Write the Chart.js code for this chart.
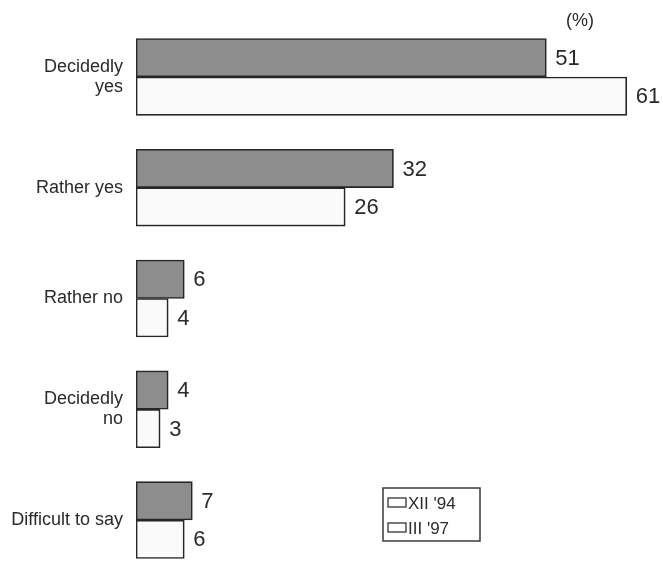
<!DOCTYPE html>
<html>
<head>
<meta charset="utf-8">
<script src="https://cdn.jsdelivr.net/npm/chart.js@4/dist/chart.umd.min.js"></script>
<style>
  html, body { margin: 0; padding: 0; background: #fff; overflow: hidden; }
  #wrap { position: relative; width: 663px; height: 561px; }
</style>
</head>
<body>
<div id="wrap"><canvas id="c" width="663" height="561"></canvas></div>
<script>
// Survey answers, percent of respondents
const categories = [["Decidedly", "yes"], "Rather yes", "Rather no", ["Decidedly", "no"], "Difficult to say"];
const seriesLabels = ["XII '94", "III '97"];
const values1994 = [51, 32, 6, 4, 7];
const values1997 = [61, 26, 4, 3, 6];
const unitLabel = "(%)";

const FONT = "'Liberation Sans', Arial, Helvetica, sans-serif";
const INK = "#2a2a2a";

const toPoints = arr => arr.map((v, i) => ({ x: v, y: i }));

// Value printed to the right of each bar
const valueLabels = {
  id: 'valueLabels',
  afterDatasetsDraw(chart) {
    const ctx = chart.ctx;
    ctx.save();
    ctx.font = "22px " + FONT;
    ctx.fillStyle = INK;
    ctx.textAlign = 'left';
    ctx.textBaseline = 'middle';
    chart.data.datasets.forEach((ds, di) => {
      chart.getDatasetMeta(di).data.forEach((bar, i) => {
        ctx.fillText(String(ds.data[i].x), bar.x + 9, bar.y + 1);
      });
    });
    ctx.restore();
  }
};

// Unit note and boxed legend
const extras = {
  id: 'extras',
  afterDraw(chart) {
    const ctx = chart.ctx;
    ctx.save();
    ctx.fillStyle = INK;
    ctx.font = "18px " + FONT;
    ctx.textAlign = 'center';
    ctx.textBaseline = 'middle';
    ctx.fillText(unitLabel, 580, 21);

    // legend box
    const bx = 383, by = 488, bw = 97, bh = 53;
    ctx.strokeStyle = "#3a3a3a";
    ctx.lineWidth = 1.5;
    ctx.strokeRect(bx, by, bw, bh);
    ctx.font = "17px " + FONT;
    ctx.textAlign = 'left';
    chart.data.datasets.forEach((ds, i) => {
      const cy = by + 15 + i * 25;
      ctx.fillStyle = "#fff";
      ctx.fillRect(388, cy - 5, 18, 9);
      ctx.strokeStyle = "#333";
      ctx.lineWidth = 1.3;
      ctx.strokeRect(388, cy - 5, 18, 9);
      ctx.fillStyle = INK;
      ctx.fillText(ds.label, 408, cy + 1);
    });
    ctx.restore();
  }
};

new Chart(document.getElementById('c'), {
  type: 'bar',
  data: {
    datasets: [
      {
        label: seriesLabels[0],
        data: toPoints(values1994),
        backgroundColor: "#8d8d8d",
        borderColor: "#262626",
        borderWidth: 1.7,
        borderSkipped: false,
        barThickness: 38.5
      },
      {
        label: seriesLabels[1],
        data: toPoints(values1997),
        backgroundColor: "#fafafa",
        borderColor: "#262626",
        borderWidth: 1.7,
        borderSkipped: false,
        barThickness: 38.5
      }
    ]
  },
  options: {
    indexAxis: 'y',
    responsive: false,
    animation: false,
    layout: { padding: 0 },
    plugins: {
      legend: { display: false },
      tooltip: { enabled: false }
    },
    scales: {
      x: {
        type: 'linear',
        min: 0,
        max: 65.5,
        display: false
      },
      y: {
        type: 'linear',
        reverse: true,
        offset: false,
        min: -0.695,
        max: 4.37,
        grid: { display: false, drawTicks: false },
        border: { display: false },
        afterBuildTicks: s => { s.ticks = categories.map((c, i) => ({ value: i })); },
        afterFit: s => { s.width = 136; s.paddingTop = 0; s.paddingBottom = 0; },
        ticks: {
          padding: 13,
          color: INK,
          font: { family: FONT, size: 18, lineHeight: 1.1 },
          callback: (v) => categories[v]
        }
      }
    }
  },
  plugins: [valueLabels, extras]
});
</script>
</body>
</html>
